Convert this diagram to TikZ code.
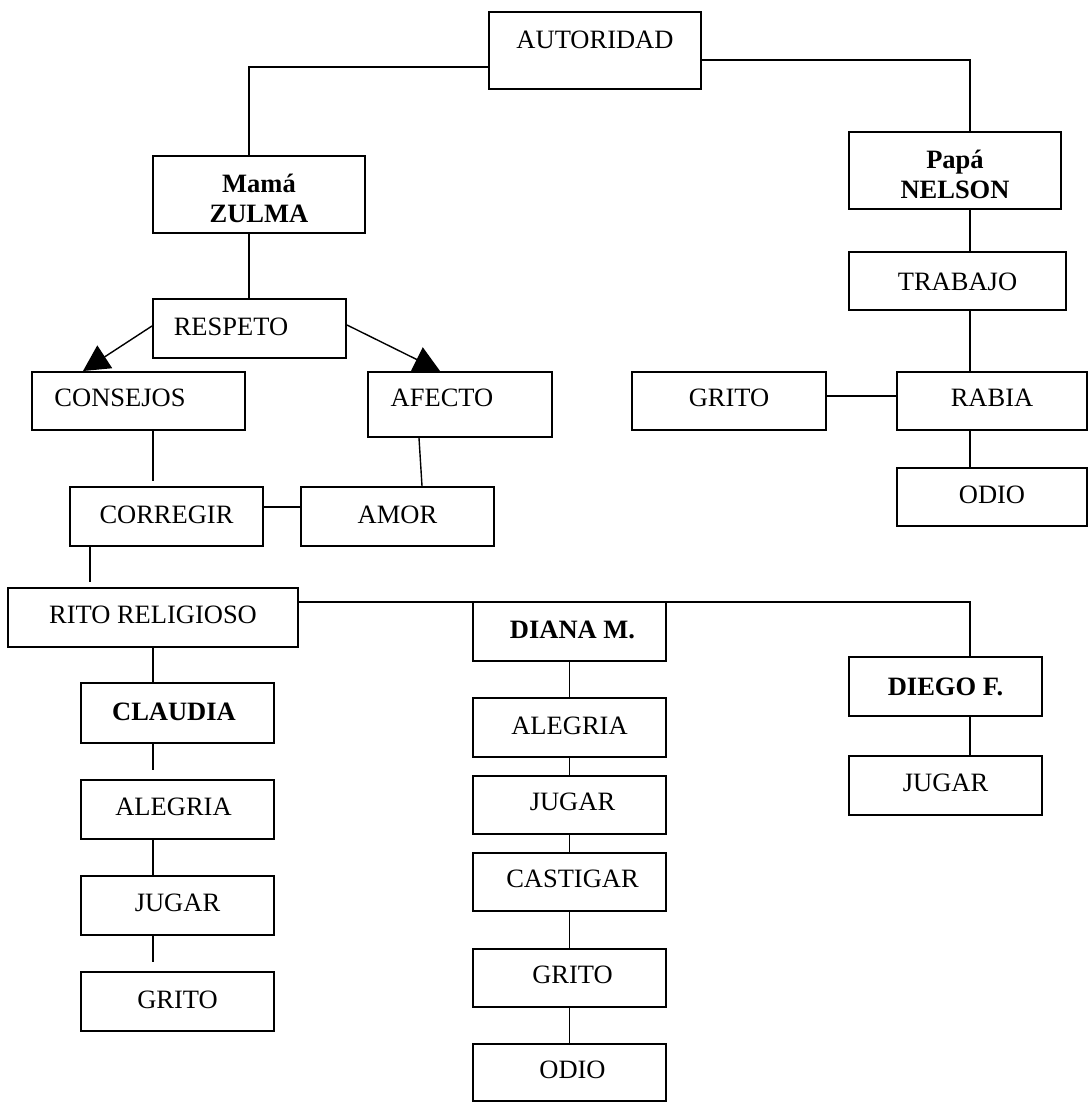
\documentclass[tikz,border=0pt]{standalone}
\usepackage{fontspec}
\setmainfont{Liberation Serif}
\usetikzlibrary{arrows.meta}
\begin{document}
\begin{tikzpicture}[x=1pt,y=-1pt,
  font={\fontsize{26.5}{30}\selectfont},
  box/.style={draw, line width=2pt, inner sep=0pt, minimum width=193pt, minimum height=59pt},
  conn/.style={draw, line width=1.4pt},
  arr/.style={conn, -{Triangle[length=26pt,width=27pt]}},
  bold/.style={font={\fontsize{26.5}{30}\selectfont\bfseries}}]
\useasboundingbox (0,0) rectangle (1088,1102);
\fill[white] (0,0) rectangle (1088,1102);

% top
\node[box, minimum width=212pt, minimum height=77pt, label={[yshift=10.5pt]center:AUTORIDAD}] (aut) at (595,50.5) {};
\node[box, minimum width=212pt, minimum height=77pt, label={[bold, align=center, yshift=-4pt]center:Mamá\\ZULMA}] (zulma) at (259,194.5) {};
\node[box, minimum width=212pt, minimum height=77pt, label={[bold, align=center, yshift=-4pt]center:Papá\\NELSON}] (nelson) at (955,170.5) {};

% mother branch
\node[box, label={[xshift=-18.5pt, yshift=1.5pt]center:RESPETO}] (respeto) at (249.5,328.5) {};
\node[box, minimum width=213pt, minimum height=58pt, label={[xshift=-18.5pt, yshift=3pt]center:CONSEJOS}] (consejos) at (138.5,401) {};
\node[box, minimum width=184pt, minimum height=65pt, label={[xshift=-18pt, yshift=6.5pt]center:AFECTO}] (afecto) at (460,404.5) {};
\node[box, label={[yshift=1.5pt]center:CORREGIR}] (corregir) at (166.5,516.5) {};
\node[box, label={[yshift=1.5pt]center:AMOR}] (amor) at (397.5,516.5) {};
\node[box, minimum width=290pt, label={[yshift=2.5pt]center:RITO RELIGIOSO}] (rito) at (153,617.5) {};

% Claudia column
\node[box, minimum height=60pt, label={[bold, xshift=-3.5pt, yshift=1pt]center:CLAUDIA}] (claudia) at (177.5,713) {};
\node[box, label={[xshift=-4pt, yshift=2.5pt]center:ALEGRIA}] (alegria1) at (177.5,809.5) {};
\node[box, label={[yshift=2.5pt]center:JUGAR}] (jugar1) at (177.5,905.5) {};
\node[box, label={[yshift=1.5pt]center:GRITO}] (grito1) at (177.5,1001.5) {};

% Diana column
\node[box, label={[bold, xshift=3pt, yshift=1.5pt]center:DIANA M.}] (diana) at (569.5,631.5) {};
\node[box, label={[yshift=2pt]center:ALEGRIA}] (alegria2) at (569.5,727.5) {};
\node[box, minimum height=58pt, label={[xshift=3pt, yshift=3pt]center:JUGAR}] (jugar2) at (569.5,805) {};
\node[box, minimum height=58pt, label={[xshift=3pt, yshift=3pt]center:CASTIGAR}] (castigar) at (569.5,882) {};
\node[box, minimum height=58pt, label={[xshift=3pt, yshift=3pt]center:GRITO}] (grito2) at (569.5,978) {};
\node[box, minimum height=57pt, label={[xshift=3pt, yshift=3pt]center:ODIO}] (odio2) at (569.5,1072.5) {};

% Diego column
\node[box, label={[bold, yshift=-0.5pt]center:DIEGO F.}] (diego) at (945.5,686.5) {};
\node[box, label={[yshift=3pt]center:JUGAR}] (jugar3) at (945.5,785.5) {};

% father branch
\node[box, minimum width=217pt, minimum height=58pt, label={[yshift=-1pt]center:TRABAJO}] (trabajo) at (957.5,281) {};
\node[box, minimum width=194pt, minimum height=58pt, label={[yshift=3pt]center:GRITO}] (grito3) at (729,401) {};
\node[box, minimum width=190pt, minimum height=58pt, label={[yshift=3pt]center:RABIA}] (rabia) at (992,401) {};
\node[box, minimum width=190pt, minimum height=58pt, label={[yshift=2pt]center:ODIO}] (odio1) at (992,497) {};

% connectors
\draw[conn] ([yshift=-16.5pt]aut.west) -| ([xshift=-10pt]zulma.north);
\draw[conn] ([yshift=-9.5pt]aut.east) -| ([xshift=15pt]nelson.north);
\draw[conn] ([xshift=-10pt]zulma.south) -- ([xshift=-10pt]zulma.south |- respeto.north);
\draw[arr] ([yshift=2.5pt]respeto.west) -- ([xshift=52pt]consejos.north west);
\draw[arr] ([yshift=3.5pt]respeto.east) -- ([xshift=73pt]afecto.north west);
\draw[conn, shorten >=5pt] ([xshift=14.5pt]consejos.south) -- ([xshift=14.5pt]consejos.south |- corregir.north);
\draw[conn] ([xshift=-41pt]afecto.south) -- ([xshift=24.5pt]amor.north);
\draw[conn] ([yshift=9.5pt]corregir.east) -- ([yshift=9.5pt]amor.west);
\draw[conn, shorten >=5pt] ([xshift=-76.5pt]corregir.south) -- ([xshift=-76.5pt]corregir.south |- rito.north);
\draw[conn] ([yshift=15.5pt]rito.east) -| ([xshift=24.5pt]diego.north);
\draw[conn] (rito.south) -- (rito.south |- claudia.north);
\draw[conn, shorten >=9pt] ([xshift=-24.5pt]claudia.south) -- ([xshift=-24.5pt]alegria1.north);
\draw[conn] ([xshift=-24.5pt]alegria1.south) -- ([xshift=-24.5pt]jugar1.north);
\draw[conn, shorten >=9pt] ([xshift=-24.5pt]jugar1.south) -- ([xshift=-24.5pt]grito1.north);
\draw[conn] (diana.south) -- (alegria2.north);
\draw[conn] (alegria2.south) -- (jugar2.north);
\draw[conn] (jugar2.south) -- (castigar.north);
\draw[conn] (castigar.south) -- (grito2.north);
\draw[conn] (grito2.south) -- (odio2.north);
\draw[conn] ([xshift=24.5pt]diego.south) -- ([xshift=24.5pt]jugar3.north);
\draw[conn] ([xshift=15pt]nelson.south) -- ([xshift=15pt]nelson.south |- trabajo.north);
\draw[conn] ([xshift=12.5pt]trabajo.south) -- ([xshift=-22pt]rabia.north);
\draw[conn] ([yshift=5pt]grito3.east) -- ([yshift=5pt]rabia.west);
\draw[conn] ([xshift=-22pt]rabia.south) -- ([xshift=-22pt]odio1.north);
\end{tikzpicture}
\end{document}
